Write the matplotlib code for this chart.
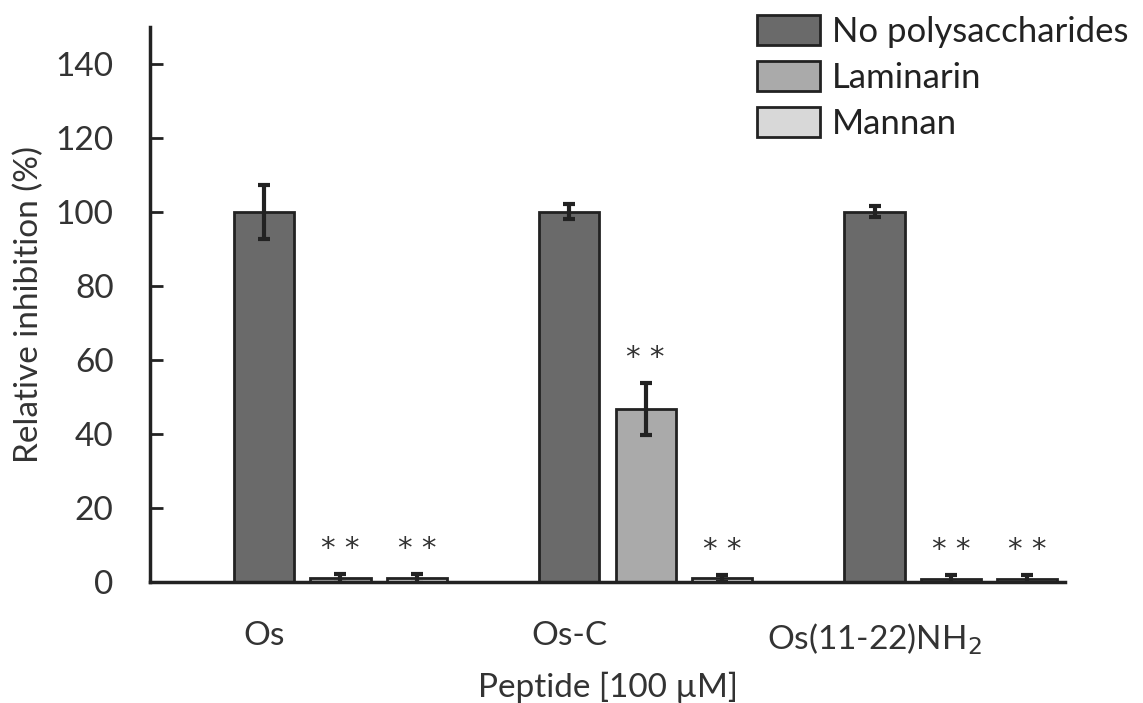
import matplotlib.pyplot as plt
import numpy as np

# data
peptides = ['Os', 'Os-C', 'Os(11-22)NH$_2$']
series = ['No polysaccharides', 'Laminarin', 'Mannan']
no_poly = [100, 100, 100]
no_poly_err = [7.3, 2.0, 1.5]
laminarin = [1.0, 46.7, 0.8]
laminarin_err = [1.2, 7.1, 1.2]
mannan = [1.0, 1.0, 0.8]
mannan_err = [1.2, 1.0, 1.2]
stars = [[False, True, True], [False, True, True], [False, True, True]]  # per peptide, per series

plt.rcParams['font.family'] = ['Lato', 'DejaVu Sans']

fig = plt.figure(figsize=(11.43, 7.03), dpi=100)
ax = fig.add_axes([0.131, 0.172, 0.801, 0.790])

colors = ['#6a6a6a', '#aaaaaa', '#d8d8d8']
vals = [no_poly, laminarin, mannan]
errs = [no_poly_err, laminarin_err, mannan_err]
width = 0.79

# 4 slots per peptide, first slot empty
for j, (v, e, c, name) in enumerate(zip(vals, errs, colors, series)):
    x = np.arange(len(peptides)) * 4 + j + 1.5
    ax.bar(x, v, width, color=c, edgecolor='#222222', linewidth=2, label=name, zorder=2)
    ax.errorbar(x, v, yerr=e, fmt='none', ecolor='#222222', elinewidth=3,
                capsize=4, capthick=3, zorder=3)
    for i in range(len(peptides)):
        if stars[i][j]:
            ax.text(x[i], v[i] + e[i] + 3.0, '* *', ha='center', va='bottom',
                    fontsize=21, color='#333333', family='DejaVu Sans')

ax.set_xlim(0, 12)
ax.set_ylim(0, 150)
ax.set_yticks(np.arange(0, 141, 20))
ax.set_xticks(np.arange(len(peptides)) * 4 + 1.5)
ax.set_xticklabels(peptides)
ax.tick_params(axis='x', length=0, pad=28, labelsize=24, colors='#333333')
ax.tick_params(axis='y', direction='in', length=9, width=2, labelsize=24, pad=26,
               colors='#222222', labelcolor='#333333')
for s in ['top', 'right']:
    ax.spines[s].set_visible(False)
ax.spines['left'].set_linewidth(2.5)
ax.spines['bottom'].set_linewidth(2.5)
ax.spines['left'].set_color('#222222')
ax.spines['bottom'].set_color('#222222')

ax.set_ylabel('Relative inhibition (%)', fontsize=24, color='#333333', labelpad=8)
ax.set_xlabel('Peptide [100 µM]', fontsize=24, color='#333333', labelpad=11)

fig.legend(loc='upper left', bbox_to_anchor=(0.662, 0.978), frameon=False, fontsize=25,
           handlelength=1.81, handleheight=0.95, labelspacing=0.37, handletextpad=0.35,
           borderaxespad=0, borderpad=0, labelcolor='#222222')

fig.savefig('out.png', dpi=100)
